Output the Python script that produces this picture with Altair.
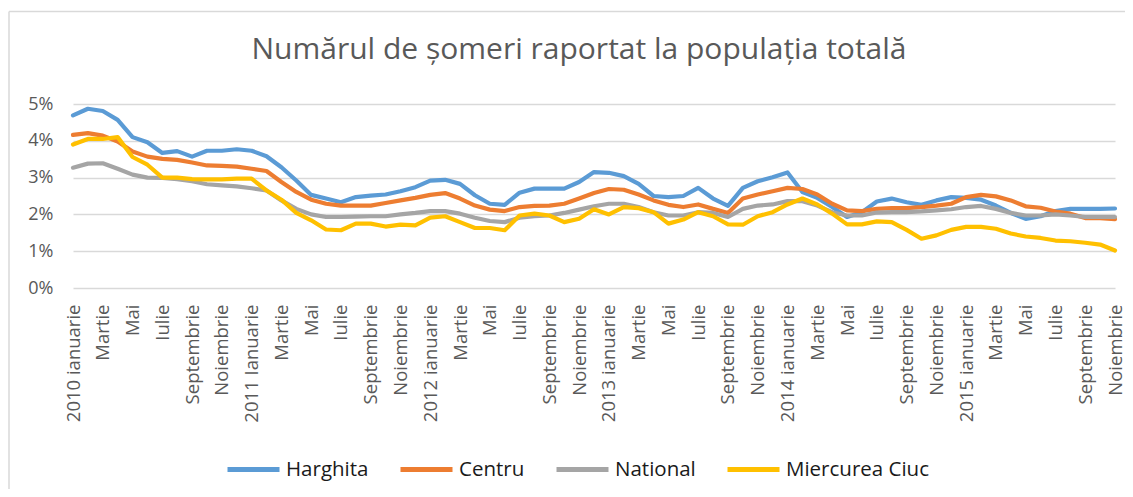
import altair as alt
import pandas as pd

chart_title = "Numărul de șomeri raportat la populația totală"
series_names = ["Harghita", "Centru", "National", "Miercurea Ciuc"]
series_colors = ["#5B9BD5", "#ED7D31", "#A5A5A5", "#FFC000"]

month_names = ["ianuarie", "Februarie", "Martie", "Aprilie", "Mai", "Iunie", "Iulie",
               "August", "Septembrie", "Octombrie", "Noiembrie", "Decembrie"]
years = [2010, 2011, 2012, 2013, 2014, 2015]
n_months = 71

harghita = [4.69, 4.87, 4.81, 4.57, 4.10, 3.96, 3.67, 3.72, 3.57, 3.73, 3.73, 3.77,
            3.73, 3.58, 3.28, 2.92, 2.53, 2.43, 2.33, 2.47, 2.51, 2.54, 2.63, 2.74,
            2.92, 2.94, 2.83, 2.52, 2.29, 2.26, 2.59, 2.70, 2.70, 2.70, 2.88, 3.15,
            3.13, 3.04, 2.83, 2.50, 2.47, 2.50, 2.72, 2.43, 2.23, 2.72, 2.90, 3.01,
            3.14, 2.61, 2.45, 2.20, 1.93, 2.06, 2.35, 2.43, 2.33, 2.26, 2.38, 2.47,
            2.45, 2.40, 2.24, 2.04, 1.88, 1.95, 2.09, 2.15, 2.15, 2.15, 2.16]
centru = [4.16, 4.21, 4.14, 3.98, 3.71, 3.57, 3.51, 3.48, 3.41, 3.33, 3.32, 3.30,
          3.24, 3.18, 2.88, 2.61, 2.40, 2.29, 2.24, 2.24, 2.24, 2.31, 2.38, 2.45,
          2.53, 2.58, 2.43, 2.24, 2.13, 2.09, 2.20, 2.23, 2.24, 2.29, 2.43, 2.58,
          2.69, 2.67, 2.54, 2.38, 2.26, 2.20, 2.27, 2.15, 2.04, 2.43, 2.54, 2.63,
          2.72, 2.69, 2.54, 2.29, 2.11, 2.09, 2.15, 2.17, 2.17, 2.20, 2.24, 2.29,
          2.47, 2.53, 2.49, 2.38, 2.22, 2.18, 2.08, 2.02, 1.90, 1.90, 1.87]
national = [3.27, 3.38, 3.39, 3.24, 3.08, 3.00, 2.99, 2.96, 2.90, 2.82, 2.79, 2.76,
            2.71, 2.65, 2.38, 2.15, 2.00, 1.93, 1.93, 1.94, 1.95, 1.95, 2.00, 2.04,
            2.09, 2.09, 2.02, 1.91, 1.82, 1.79, 1.91, 1.95, 1.97, 2.04, 2.13, 2.22,
            2.29, 2.29, 2.20, 2.06, 1.97, 1.97, 2.06, 2.04, 1.93, 2.15, 2.24, 2.27,
            2.36, 2.36, 2.24, 2.06, 1.97, 1.97, 2.05, 2.06, 2.06, 2.08, 2.11, 2.14,
            2.20, 2.23, 2.15, 2.04, 1.97, 1.97, 2.00, 1.97, 1.93, 1.93, 1.93]
miercurea_ciuc = [3.90, 4.05, 4.05, 4.10, 3.56, 3.35, 3.00, 3.00, 2.96, 2.95, 2.95, 2.97,
                  2.97, 2.65, 2.40, 2.04, 1.84, 1.59, 1.57, 1.75, 1.75, 1.67, 1.72, 1.70,
                  1.91, 1.95, 1.79, 1.63, 1.63, 1.57, 1.97, 2.02, 1.97, 1.79, 1.88, 2.14,
                  2.00, 2.20, 2.17, 2.06, 1.75, 1.86, 2.06, 1.95, 1.73, 1.72, 1.95, 2.06,
                  2.27, 2.43, 2.27, 2.02, 1.73, 1.73, 1.81, 1.79, 1.58, 1.34, 1.43, 1.58,
                  1.66, 1.66, 1.61, 1.48, 1.40, 1.36, 1.29, 1.27, 1.23, 1.18, 1.02]

# category labels for each month
labels = []
for i in range(n_months):
    y = years[i // 12]
    m = i % 12
    if m == 0:
        labels.append(f"{y} Ianuarie" if y == 2011 else f"{y} ianuarie")
    else:
        labels.append(month_names[m])

values = [harghita, centru, national, miercurea_ciuc]
rows = []
for name, vals in zip(series_names, values):
    for i, v in enumerate(vals):
        rows.append({"idx": i, "luna": labels[i], "serie": name, "val": v})
df = pd.DataFrame(rows)

W, H = 1042, 184
label_js = "[" + ",".join("'" + s + "'" for s in labels) + "]"
tick_vals = list(range(0, n_months, 2))

lines = alt.Chart(df).mark_line(strokeWidth=4.2, strokeJoin="round", strokeCap="round").encode(
    x=alt.X("idx:Q", scale=alt.Scale(domain=[0, n_months - 1], nice=False, zero=False),
            axis=alt.Axis(values=tick_vals, labelExpr=label_js + "[datum.value]",
                          labelAngle=270, labelFontSize=18.5, labelColor="#595959",
                          labelFont="Open Sans", labelPadding=16, grid=False,
                          domain=False, ticks=False, title=None, labelOverlap=False,
                          labelBound=False, labelFlush=False)),
    y=alt.Y("val:Q", scale=alt.Scale(domain=[0, 5], nice=False),
            axis=alt.Axis(values=[0, 1, 2, 3, 4, 5], labelExpr="datum.value + '%'",
                          labelFontSize=18, labelColor="#595959", labelFont="Open Sans",
                          labelPadding=20, domain=False, ticks=False, grid=True,
                          gridColor="#d9d9d9", gridWidth=1.5, title=None)),
    color=alt.Color("serie:N", scale=alt.Scale(domain=series_names, range=series_colors),
                    sort=series_names,
                    legend=alt.Legend(title=None, orient="none", legendX=152, legendY=337,
                                      direction="horizontal", symbolType="stroke",
                                      symbolSize=2704, symbolStrokeWidth=5,
                                      labelFontSize=20.5, labelFont="Open Sans",
                                      labelColor="#1a1a1a", labelOffset=4,
                                      columnPadding=21)),
    order=alt.Order("idx:Q"),
)

one = pd.DataFrame({"t": [chart_title]})

border_top = alt.Chart(one).mark_rule(stroke="#d9d9d9", strokeWidth=1.5).encode(
    x=alt.value(-64), x2=alt.value(1200), y=alt.value(-92.5)
)
border_left = alt.Chart(one).mark_rule(stroke="#d9d9d9", strokeWidth=1.5).encode(
    x=alt.value(-64), y=alt.value(-92.5), y2=alt.value(600)
)
title_text = alt.Chart(one).mark_text(
    font="Open Sans", fontSize=30, color="#595959", align="center", baseline="alphabetic"
).encode(x=alt.value(506), y=alt.value(-45), text="t:N")

chart = alt.layer(border_top, border_left, title_text, lines).properties(
    width=W, height=H,
    autosize=alt.AutoSizeParams(type="none"),
    padding={"left": 65, "top": 96, "right": 10, "bottom": 201},
).configure_view(stroke=None)

chart.save("out.html", embed_options={"renderer": "svg", "actions": False})
